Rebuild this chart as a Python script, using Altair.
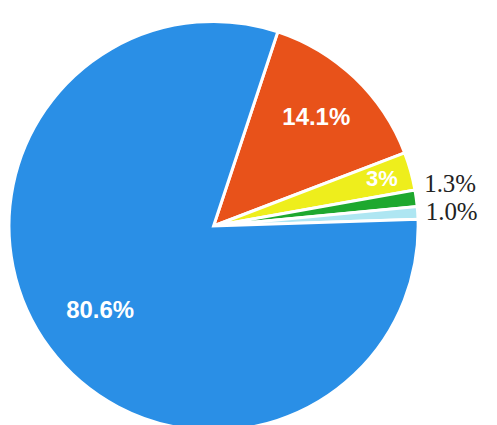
import math
import altair as alt
import pandas as pd

names = ["Orange", "Yellow", "Green", "Cyan", "Blue"]
shares = [14.1, 3.0, 1.3, 1.0, 80.6]
labels = ["14.1%", "3%", "1.3%", "1.0%", "80.6%"]
colors = ["#e8521a", "#eeee1c", "#1ea82e", "#aee6f2", "#2a8fe6"]

df = pd.DataFrame({"name": names, "share": shares, "label": labels,
                   "order": list(range(len(names)))})

start = math.radians(18.3)
theta_scale = alt.Scale(domain=[0, 100], range=[start, start + 2 * math.pi])

CX, CY = 206, 218

base = (
    alt.Chart(df)
    .transform_window(cum="sum(share)", sort=[alt.SortField("order")], frame=[None, 0])
    .transform_calculate(mid="datum.cum - datum.share / 2", lo="datum.cum - datum.share")
)

arcs = base.mark_arc(outerRadius=205, stroke="white", strokeWidth=3).encode(
    x=alt.value(CX), y=alt.value(CY),
    theta=alt.Theta("lo:Q", scale=theta_scale),
    theta2="cum:Q",
    color=alt.Color("name:N", scale=alt.Scale(domain=names, range=colors), legend=None),
)


def lbl(name, r, size, font, weight, color, align="center", dy=0):
    return (
        base.transform_filter(alt.datum.name == name)
        .mark_text(radius=r, fontSize=size, font=font, fontWeight=weight, color=color,
                   align=align, baseline="middle", dy=dy)
        .encode(x=alt.value(CX), y=alt.value(CY),
                theta=alt.Theta("mid:Q", scale=theta_scale), text="label:N")
    )


chart = alt.layer(
    arcs,
    lbl("Orange", 149, 24, "Liberation Sans", "bold", "white"),
    lbl("Yellow", 175, 22, "Liberation Sans", "bold", "white"),
    lbl("Blue", 142, 24, "Liberation Sans", "bold", "white"),
    lbl("Green", 213, 25, "Liberation Serif", "normal", "#222222", align="left", dy=-13),
    lbl("Cyan", 213, 25, "Liberation Serif", "normal", "#222222", align="left", dy=0),
).properties(
    width=412, height=417,
    autosize=alt.AutoSizeParams(type="none"),
    padding={"left": 0, "top": 0, "right": 70, "bottom": 0},
).configure_view(stroke=None)

chart.save("out.html", embed_options={"renderer": "svg", "actions": False})
